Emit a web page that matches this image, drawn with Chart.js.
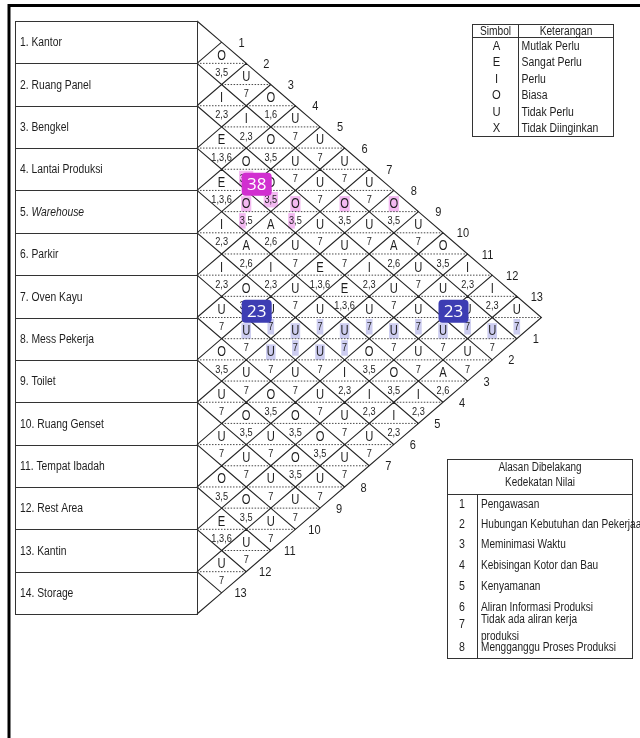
<!DOCTYPE html>
<html lang="id">
<head>
<meta charset="UTF-8">
<title>Activity Relationship Chart</title>
<style>
  html, body { margin: 0; padding: 0; background: #fff; }
  canvas { display: block; }
</style>
</head>
<body>
<canvas id="arc" width="640" height="738"></canvas>
<script src="https://cdn.jsdelivr.net/npm/chart.js@4.4.1/dist/chart.umd.min.js"></script>
<script>
// departments (rows of the chart)
const departments = ['1. Kantor', '2. Ruang Panel', '3. Bengkel', '4. Lantai Produksi', '5. Warehouse',
  '6. Parkir', '7. Oven Kayu', '8. Mess Pekerja', '9. Toilet', '10. Ruang Genset',
  '11. Tempat Ibadah', '12. Rest Area', '13. Kantin', '14. Storage'];
const italicNames = ['Warehouse'];

// closeness rating of department i with i+1 .. 14
const ratings = [
  'OUOUUUUOUOIIU',
  'IIOUUOUAUUUU',
  'EOOOUUIUUUU',
  'EOAUEEUUUA',
  'IAIUUUOOI',
  'IOUUUIII',
  'UUUUUUU',
  'OUOOOU',
  'UOUOU',
  'UUUU',
  'OOU',
  'EU',
  'U'
];

// reason codes, same order
const reasons = [
  ['3,5', '7', '1,6', '7', '7', '7', '7', '3,5', '7', '3,5', '2,3', '2,3', '7'],
  ['2,3', '2,3', '3,5', '7', '7', '3,5', '7', '2,6', '7', '7', '7', '7'],
  ['1,3,6', '3,5', '3,5', '3,5', '7', '7', '2,3', '7', '7', '7', '7'],
  ['1,3,6', '3,5', '2,6', '7', '1,3,6', '1,3,6', '7', '7', '7', '2,6'],
  ['2,3', '2,6', '2,3', '7', '7', '7', '3,5', '3,5', '2,3'],
  ['2,3', '3,5', '7', '7', '7', '2,3', '2,3', '2,3'],
  ['7', '7', '7', '7', '7', '7', '7'],
  ['3,5', '7', '3,5', '3,5', '3,5', '7'],
  ['7', '3,5', '7', '3,5', '7'],
  ['7', '7', '7', '7'],
  ['3,5', '3,5', '7'],
  ['1,3,6', '7'],
  ['7']
];

// marked cells: [i, j, part] part L = rating, R = reason, R1 = first digit of reason
const pinkMarks = [[4, 6, 'L'], [3, 6, 'R'], [3, 7, 'L'], [2, 8, 'L'], [1, 9, 'L'], [4, 6, 'R1'], [3, 7, 'R1'], [3, 5, 'R']];
const blueMarks = [[6, 9, 'R'], [5, 10, 'R'], [4, 11, 'R'], [3, 12, 'R'], [2, 13, 'R'], [1, 14, 'R'],
  [7, 9, 'L'], [6, 10, 'L'], [5, 11, 'L'], [4, 12, 'L'], [3, 13, 'L'], [2, 14, 'L'],
  [6, 10, 'R'], [5, 11, 'R'], [7, 10, 'L'], [6, 11, 'L']];
const badgeCells = [[3, 5], [6, 8], [2, 12]];
const badgeTexts = ['38', '23', '23'];

// legends
const symbols = ['A', 'E', 'I', 'O', 'U', 'X'];
const symbolMeaning = ['Mutlak Perlu', 'Sangat Perlu', 'Perlu', 'Biasa', 'Tidak Perlu', 'Tidak Diinginkan'];
const reasonNo = ['1', '2', '3', '4', '5', '6', '7', '8'];
const reasonText = ['Pengawasan', 'Hubungan Kebutuhan dan Pekerjaan', 'Meminimasi Waktu', 'Kebisingan Kotor dan Bau',
  'Kenyamanan', 'Aliran Informasi Produksi', 'Tidak ada aliran kerja\nproduksi', 'Mengganggu Proses Produksi'];

// layout (px)
const W = 640, H = 738;
const GRID = { left: 197, hw: 24.6, top: 21, rh: 42.36 };
const FONT = '"Liberation Sans", Arial, sans-serif';

const N = departments.length;
const cells = [];
for (let i = 1; i < N; i++) {
  for (let j = i + 1; j <= N; j++) {
    cells.push({ i, j, rating: ratings[i - 1][j - i - 1], reason: reasons[i - 1][j - i - 1], x: j - i, y: (i + j - 1) / 2 });
  }
}
const cellOf = (i, j) => cells.find(c => c.i === i && c.j === j);

const edgePts = [];
const midPts = [];
cells.forEach(c => {
  edgePts.push({ x: c.x - 1, y: c.y }, { x: c.x, y: c.y - 0.5 }, { x: c.x + 1, y: c.y },
    { x: c.x, y: c.y + 0.5 }, { x: c.x - 1, y: c.y }, { x: c.x, y: null });
  midPts.push({ x: c.x - 1, y: c.y }, { x: c.x + 1, y: c.y }, { x: c.x, y: null });
});
edgePts.push({ x: 0, y: 0 }, { x: 1, y: 0.5 }, { x: 1, y: null }, { x: 1, y: N - 0.5 }, { x: 0, y: N });

// narrow text (the original uses a condensed face)
function narrow(ctx, text, x, y, size, sx, align, style) {
  ctx.save();
  ctx.font = (style ? style + ' ' : '') + size + 'px ' + FONT;
  ctx.translate(x, y);
  ctx.scale(sx, 1);
  ctx.textAlign = align || 'center';
  ctx.fillText(text, 0, 0);
  const w = ctx.measureText(text).width * sx;
  ctx.restore();
  return w;
}
function narrowWidth(ctx, text, size, sx) {
  ctx.save();
  ctx.font = size + 'px ' + FONT;
  const w = ctx.measureText(text).width * sx;
  ctx.restore();
  return w;
}

const LET = { size: 14, sx: 0.8, dy: -7.5 };
const REA = { size: 11.5, sx: 0.8, dy: 9.5 };

const arcPlugin = {
  id: 'arc',
  beforeDatasetsDraw(chart) {
    const ctx = chart.ctx;
    const px = v => chart.scales.x.getPixelForValue(v);
    const py = v => chart.scales.y.getPixelForValue(v);
    const mark = (list, color) => {
      list.forEach(([i, j, part]) => {
        const c = cellOf(i, j);
        const f = part === 'L' ? LET : REA;
        const fullTxt = part === 'L' ? c.rating : c.reason;
        const txt = part === 'R1' ? c.reason[0] : fullTxt;
        const full = narrowWidth(ctx, fullTxt, f.size, f.sx);
        const w = narrowWidth(ctx, txt, f.size, f.sx) + 1.5;
        const x = px(c.x) - full / 2 - 0.75;
        const y = py(c.y) + f.dy;
        ctx.fillStyle = color;
        ctx.fillRect(x, y - 8, w, 15.5);
      });
    };
    ctx.save();
    mark(pinkMarks, '#f3b9f1');
    mark(blueMarks, '#cdcdf0');
    ctx.restore();
  },
  afterDatasetsDraw(chart) {
    const ctx = chart.ctx;
    const px = v => chart.scales.x.getPixelForValue(v);
    const py = v => chart.scales.y.getPixelForValue(v);
    ctx.save();
    ctx.fillStyle = '#1e1e1e';
    ctx.textBaseline = 'middle';

    // ratings and reasons
    cells.forEach(c => {
      narrow(ctx, c.rating, px(c.x), py(c.y) + LET.dy, LET.size, LET.sx);
      narrow(ctx, c.reason, px(c.x), py(c.y) + REA.dy, REA.size, REA.sx);
    });

    // numbers along the two outer edges
    for (let k = 1; k < N; k++) {
      narrow(ctx, String(k), px(k) + 20, py(k / 2) + 1, 13, 0.85);
      narrow(ctx, String(k), px(N - k) + 19, py((k + N) / 2) + 1, 13, 0.85);
    }

    // badges
    badgeCells.forEach(([i, j], n) => {
      const c = cellOf(i, j);
      const cx = px(c.x) + 10.5, cy = py(c.y) + 15;
      ctx.fillStyle = badgeTexts[n] === '38' ? '#d12fd0' : '#3d3db3';
      ctx.beginPath();
      ctx.roundRect(cx - 15, cy - 11.5, 30, 23, 4);
      ctx.fill();
      ctx.fillStyle = '#fff';
      ctx.font = '17px "Open Sans", "DejaVu Sans", sans-serif';
      ctx.textAlign = 'center';
      ctx.fillText(badgeTexts[n], cx, cy + 0.5);
    });

    // department boxes
    ctx.fillStyle = '#1e1e1e';
    ctx.strokeStyle = '#333';
    ctx.lineWidth = 1;
    const bx = 15.5, bw = Math.round(px(0)) + 0.5 - bx;
    departments.forEach((name, k) => {
      const y0 = Math.round(py(k)) + 0.5, y1 = Math.round(py(k + 1)) + 0.5;
      ctx.strokeRect(bx, y0, bw, y1 - y0);
      const ym = (y0 + y1) / 2 + 0.5;
      const it = italicNames.find(n => name.endsWith(n));
      if (it) {
        const head = name.slice(0, name.length - it.length);
        const hw = narrow(ctx, head, 20, ym, 12, 0.86, 'left');
        narrow(ctx, it, 20 + hw, ym, 12, 0.86, 'left', 'italic');
      } else {
        narrow(ctx, name, 20, ym, 12, 0.86, 'left');
      }
    });

    // outer frame
    ctx.strokeStyle = '#000';
    ctx.lineWidth = 3;
    ctx.beginPath();
    ctx.moveTo(W, 5.5);
    ctx.lineTo(9, 5.5);
    ctx.lineTo(9, H);
    ctx.stroke();

    // symbol legend
    ctx.lineWidth = 1;
    ctx.strokeStyle = '#333';
    const sx0 = 472.5, sx1 = 518.5, sx2 = 613.5, sy0 = 24.5, sy1 = 37.5, srh = 16.5;
    const sy2 = sy1 + symbols.length * srh;
    ctx.strokeRect(sx0, sy0, sx2 - sx0, sy2 - sy0);
    ctx.beginPath();
    ctx.moveTo(sx0, sy1); ctx.lineTo(sx2, sy1);
    ctx.moveTo(sx1, sy0); ctx.lineTo(sx1, sy2);
    ctx.stroke();
    narrow(ctx, 'Simbol', (sx0 + sx1) / 2, (sy0 + sy1) / 2 + 0.5, 12, 0.85);
    narrow(ctx, 'Keterangan', (sx1 + sx2) / 2, (sy0 + sy1) / 2 + 0.5, 12, 0.85);
    symbols.forEach((s, k) => {
      const y = sy1 + (k + 0.5) * srh + 0.5;
      narrow(ctx, s, (sx0 + sx1) / 2 + 1, y, 12.5, 0.9);
      narrow(ctx, symbolMeaning[k], sx1 + 3, y, 12, 0.87, 'left');
    });

    // reason legend
    const ax0 = 447.5, ax1 = 477.5, ax2 = 632.5, ay0 = 459.5, ay1 = 494.5, ay2 = 658.5;
    ctx.strokeRect(ax0, ay0, ax2 - ax0, ay2 - ay0);
    ctx.beginPath();
    ctx.moveTo(ax0, ay1); ctx.lineTo(ax2, ay1);
    ctx.moveTo(ax1, ay1); ctx.lineTo(ax1, ay2);
    ctx.stroke();
    narrow(ctx, 'Alasan Dibelakang', (ax0 + ax2) / 2, 468, 12, 0.83);
    narrow(ctx, 'Kedekatan Nilai', (ax0 + ax2) / 2, 483, 12, 0.83);
    const rowY = [505, 525, 545, 566, 587, 608, 625, 648];
    reasonNo.forEach((n, k) => {
      narrow(ctx, n, 462, rowY[k], 12.5, 0.85);
      const lines = reasonText[k].split('\n');
      if (lines.length === 1) {
        narrow(ctx, lines[0], 481, rowY[k], 12, 0.84, 'left');
      } else {
        narrow(ctx, lines[0], 481, rowY[k] - 5, 12, 0.84, 'left');
        narrow(ctx, lines[1], 481, rowY[k] + 12, 12, 0.84, 'left');
      }
    });
    ctx.restore();
  }
};

new Chart(document.getElementById('arc'), {
  type: 'scatter',
  data: {
    datasets: [
      { data: edgePts, showLine: true, borderColor: '#262626', borderWidth: 1.1, pointRadius: 0, spanGaps: false },
      { data: midPts, showLine: true, borderColor: '#4a4a4a', borderWidth: 1, borderDash: [1.5, 1.5], pointRadius: 0, spanGaps: false }
    ]
  },
  options: {
    responsive: false,
    animation: false,
    devicePixelRatio: 1,
    events: [],
    layout: { padding: 0 },
    plugins: { legend: { display: false }, tooltip: { enabled: false } },
    scales: {
      x: { type: 'linear', display: false, min: -GRID.left / GRID.hw, max: (W - GRID.left) / GRID.hw },
      y: { type: 'linear', display: false, reverse: true, min: -GRID.top / GRID.rh, max: (H - GRID.top) / GRID.rh }
    }
  },
  plugins: [arcPlugin]
});
</script>
</body>
</html>
